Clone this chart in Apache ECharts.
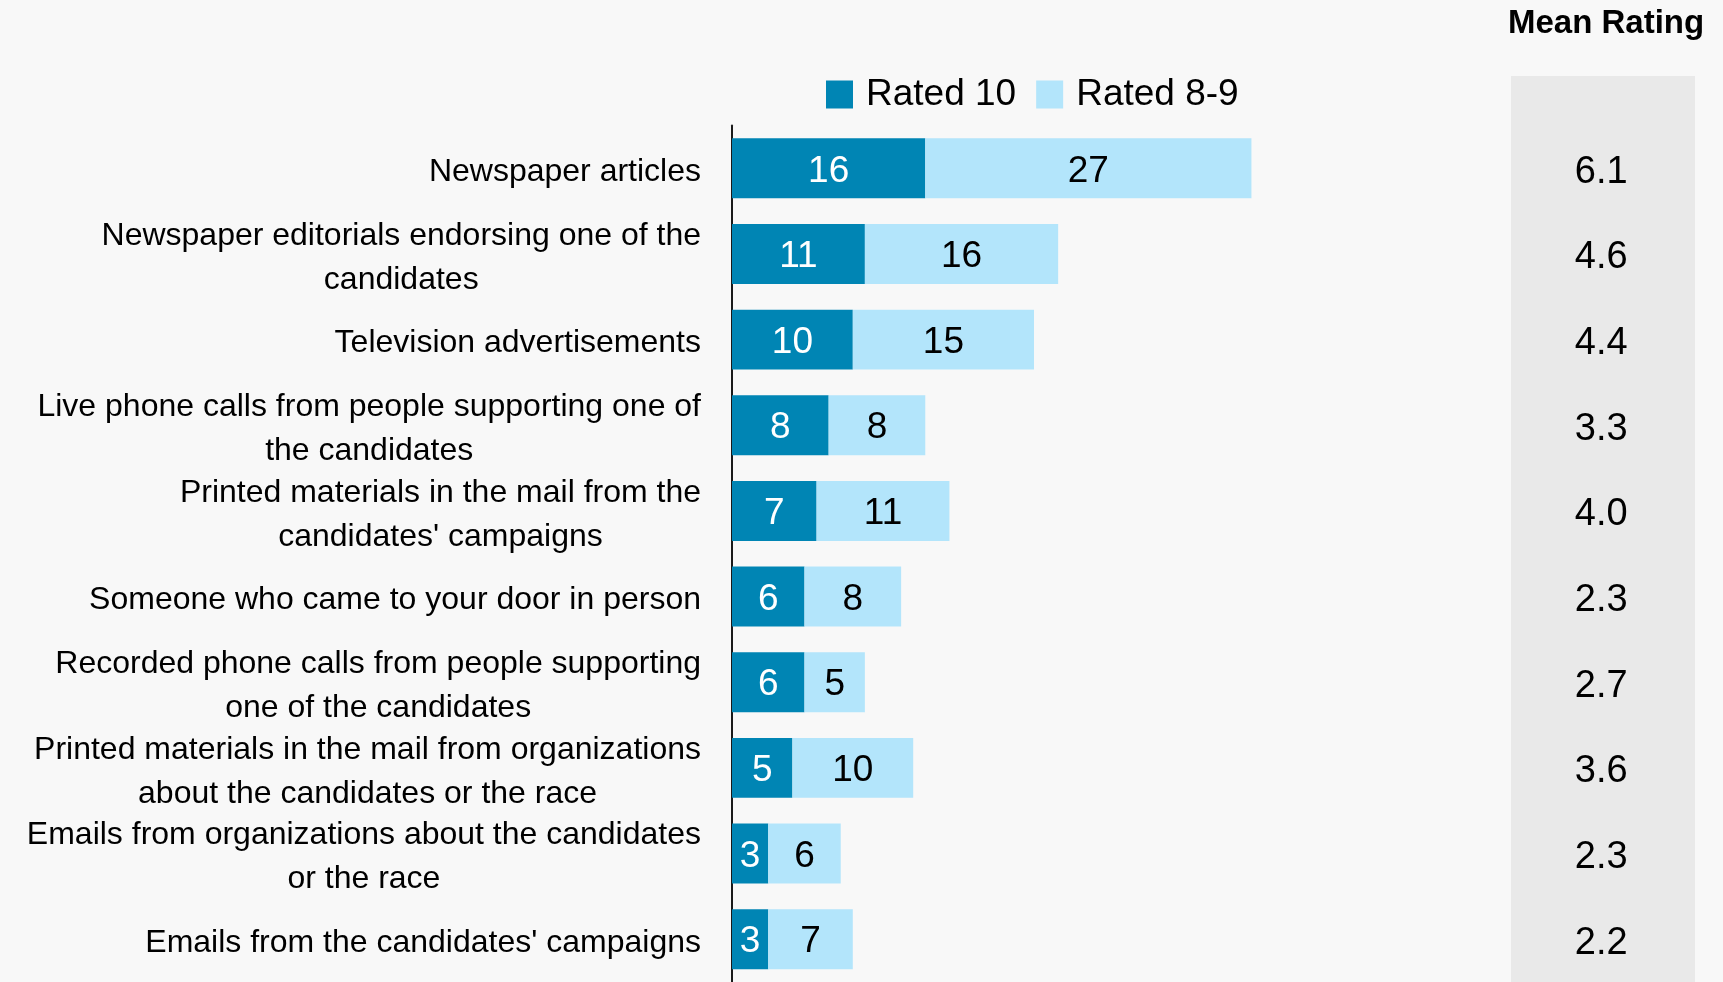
<!DOCTYPE html>
<html>
<head>
<meta charset="utf-8">
<script src="https://cdn.jsdelivr.net/npm/echarts@6/dist/echarts.min.js"></script>
<style>
html,body{margin:0;padding:0;background:#f8f8f8;}
#c{width:1723px;height:982px;}
</style>
</head>
<body>
<div id="c"></div>
<script>
const categories = [
  "Newspaper articles",
  "Newspaper editorials endorsing one of the\ncandidates",
  "Television advertisements",
  "Live phone calls from people supporting one of\nthe candidates",
  "Printed materials in the mail from the\ncandidates' campaigns",
  "Someone who came to your door in person",
  "Recorded phone calls from people supporting\none of the candidates",
  "Printed materials in the mail from organizations\nabout the candidates or the race",
  "Emails from organizations about the candidates\nor the race",
  "Emails from the candidates' campaigns"
];
const rated10 = [16, 11, 10, 8, 7, 6, 6, 5, 3, 3];
const rated89 = [27, 16, 15, 8, 11, 8, 5, 10, 6, 7];
const meanRating = [6.1, 4.6, 4.4, 3.3, 4.0, 2.3, 2.7, 3.6, 2.3, 2.2];
const seriesNames = ["Rated 10", "Rated 8-9"];
const panelTitle = "Mean Rating";

const FONT = "'Liberation Sans', Arial, sans-serif";
const chart = echarts.init(document.getElementById('c'), null, {renderer: 'canvas'});

const gridTop = 125.5, gridHeight = 861;

chart.setOption({
  backgroundColor: '#f8f8f8',
  animation: false,
  textStyle: {fontFamily: FONT},
  legend: {
    data: seriesNames,
    left: 826, top: 76, padding: 0,
    itemWidth: 27, itemHeight: 28, itemGap: 20,
    icon: 'rect',
    textStyle: {fontSize: 37, color: '#000', fontFamily: FONT, padding: [0, 0, 0, 8]}
  },
  graphic: [
    {type: 'rect', left: 1511, top: 76, shape: {width: 184, height: 906}, style: {fill: '#e9e9e9'}, z: -1},
    {type: 'text', left: 1508, top: 7, style: {text: panelTitle, fill: '#000', font: "bold 33px " + FONT}}
  ],
  grid: [
    {left: 732, top: gridTop, width: 604, height: gridHeight},
    {left: 1511, top: gridTop, width: 184, height: gridHeight}
  ],
  xAxis: [
    {type: 'value', gridIndex: 0, min: 0, max: 50, show: false},
    {type: 'value', gridIndex: 1, min: 0, max: 1, show: false}
  ],
  yAxis: [
    {
      type: 'category', gridIndex: 0, data: categories, inverse: true,
      axisLine: {show: true, lineStyle: {color: '#1a1a1a', width: 2}},
      axisTick: {show: false},
      splitLine: {show: false},
      axisLabel: {
        margin: 31, align: 'right', color: '#000', fontSize: 32, lineHeight: 44, fontFamily: FONT,
        padding: [8, 0, 0, 0],
        formatter: v => v.split('\n').map(l => '{c|' + l + '}').join('\n'),
        rich: {c: {align: 'center', fontSize: 32, lineHeight: 44, color: '#000', fontFamily: FONT}}
      }
    },
    {type: 'category', gridIndex: 1, data: categories, inverse: true, show: false}
  ],
  series: [
    {
      name: seriesNames[0], type: 'bar', stack: 's', xAxisIndex: 0, yAxisIndex: 0,
      data: rated10, barCategoryGap: '30%',
      itemStyle: {color: '#0085b4'},
      label: {show: true, position: 'inside', offset: [0, 3], color: '#fff', fontSize: 37, fontFamily: FONT}
    },
    {
      name: seriesNames[1], type: 'bar', stack: 's', xAxisIndex: 0, yAxisIndex: 0,
      data: rated89, barCategoryGap: '30%',
      itemStyle: {color: '#b3e5fb'},
      label: {show: true, position: 'inside', offset: [0, 3], color: '#000', fontSize: 37, fontFamily: FONT}
    },
    {
      name: panelTitle, type: 'scatter', xAxisIndex: 1, yAxisIndex: 1,
      symbolSize: 0, silent: true,
      data: meanRating.map((v, i) => [0.49, categories[i], v]),
      encode: {x: 0, y: 1},
      label: {show: true, position: 'inside', offset: [0, 4], color: '#000', opacity: 1, fontSize: 38, fontFamily: FONT,
        formatter: p => p.value[2].toFixed(1)}
    }
  ]
});
</script>
</body>
</html>
